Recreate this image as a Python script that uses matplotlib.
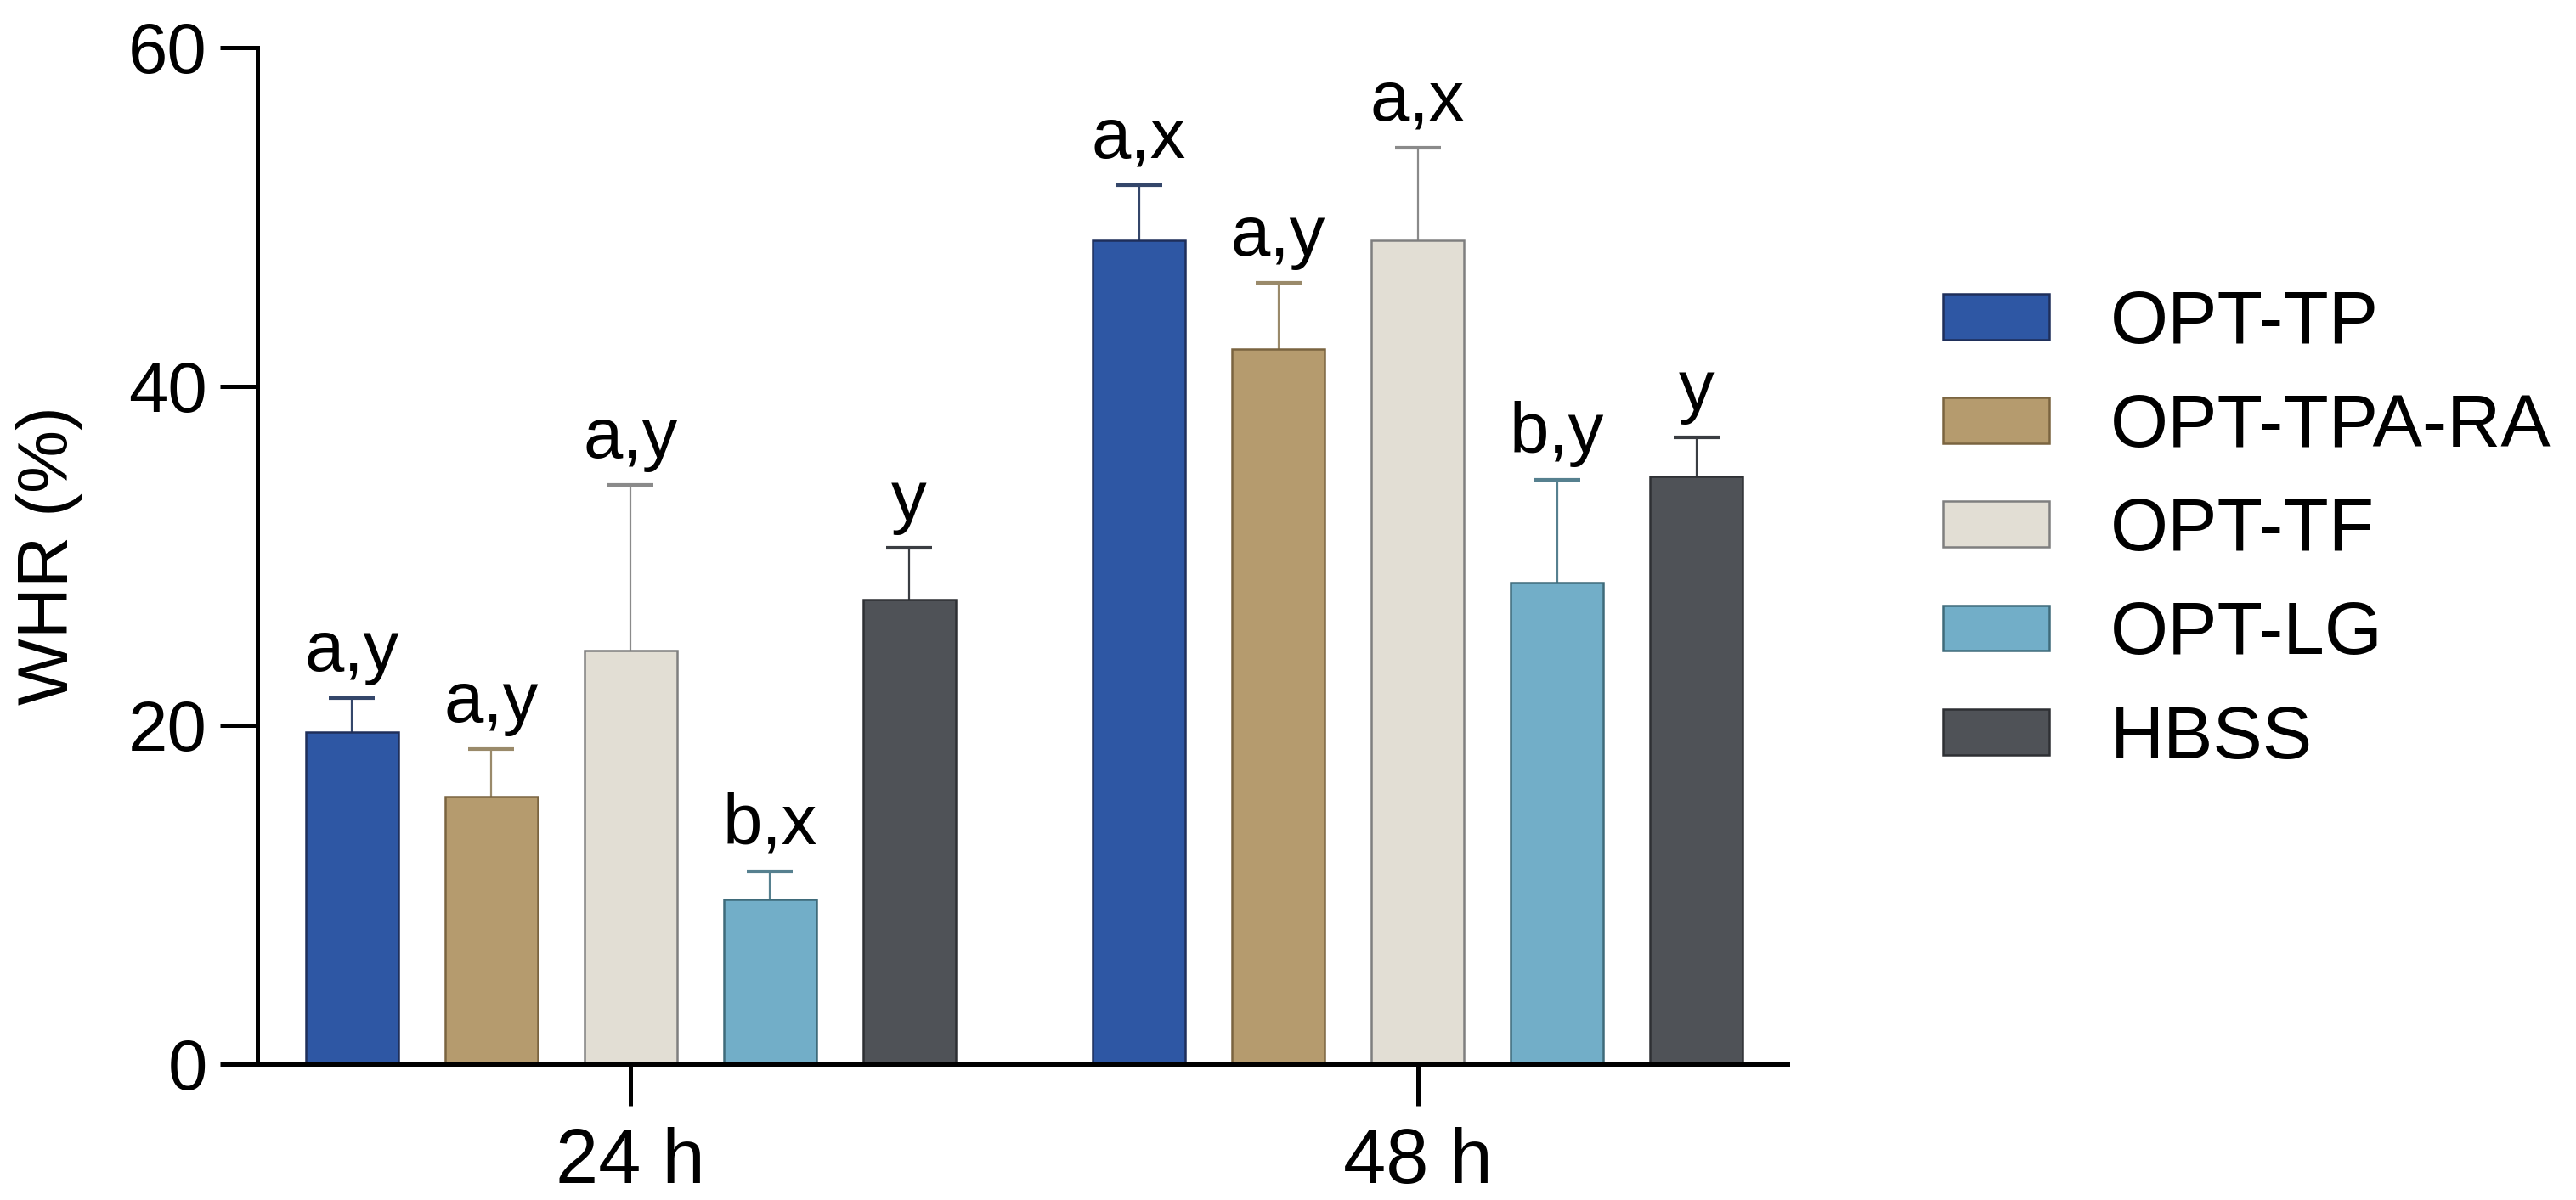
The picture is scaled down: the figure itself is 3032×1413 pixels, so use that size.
import matplotlib
matplotlib.use("Agg")
import matplotlib.pyplot as plt
import numpy as np

plt.rcParams['font.family'] = ['Liberation Sans', 'DejaVu Sans']

groups = ["24 h", "48 h"]
series = ["OPT-TP", "OPT-TPA-RA", "OPT-TF", "OPT-LG", "HBSS"]
means_24 = [19.6, 15.8, 24.4, 9.7, 27.4]
means_48 = [48.6, 42.2, 48.6, 28.4, 34.7]
err_24 = [2.0, 2.8, 9.8, 1.7, 3.1]
err_48 = [3.3, 3.9, 5.5, 6.1, 2.3]
labels_24 = ["a,y", "a,y", "a,y", "b,x", "y"]
labels_48 = ["a,x", "a,y", "a,x", "b,y", "y"]
yticks = [0, 20, 40, 60]

fills = ["#2E57A4", "#B59B6E", "#E2DED4", "#72AEC8", "#4F5257"]
edges = ["#1F2F5A", "#7A6440", "#7F7F7F", "#3F6B7A", "#2E3034"]
ecolors = ["#34466A", "#9A8A6A", "#8A8A8A", "#56808F", "#3A3D42"]
capcolors = ["#7F8CA6", "#A8987A", "#ABABAB", "#7FA0AE", "#606368"]

fig = plt.figure(figsize=(30.32, 14.13), dpi=100)
ax = fig.add_axes([303/3032, 1 - 1253/1413, (2104-303)/3032, (1253-56)/1413])

x = np.arange(len(groups))
step = 0.177
width = 0.1177
means = np.array([means_24, means_48])
errs = np.array([err_24, err_48])
labs = [labels_24, labels_48]

for i, name in enumerate(series):
    pos = x + (i - 2) * step
    ax.bar(pos, means[:, i], width, color=fills[i], edgecolor=edges[i],
           linewidth=1.8, label=name, zorder=2)
    eb = ax.errorbar(pos, means[:, i], yerr=[np.zeros(2), errs[:, i]], fmt='none',
                     ecolor=ecolors[i], elinewidth=1.6, capsize=19.4, capthick=3.0, zorder=1)
    caps = eb[1]
    if len(caps) == 2:
        caps[0].set_visible(False)
    for cap in caps:
        cap.set_color(capcolors[i])
    for g in range(len(groups)):
        ax.annotate(labs[g][i], (pos[g], means[g, i] + errs[g, i]),
                    xytext=(0, 23), textcoords='offset points',
                    ha='center', va='baseline', fontsize=60, annotation_clip=False)

ax.set_xlim(-0.474, 1.470)
ax.set_ylim(0, 60)
ax.set_yticks(yticks)
ax.set_xticks(x)
ax.set_xticklabels(groups)
ax.spines['top'].set_visible(False)
ax.spines['right'].set_visible(False)
for s in ['left', 'bottom']:
    ax.spines[s].set_linewidth(3.6)
ax.tick_params(axis='y', length=31.7, width=3.6, labelsize=60, pad=11)
ax.tick_params(axis='x', length=35, width=3.6, labelsize=65, pad=18)
ax.set_ylabel("WHR (%)", fontsize=60, labelpad=39)

fig.legend(loc='upper left', bbox_to_anchor=(2290/3032 - 0.001, 1 - 341/1413),
           frameon=False, fontsize=63, handlelength=1.43, handleheight=0.57,
           handletextpad=0.82, labelspacing=0.47, borderpad=0, borderaxespad=0)

fig.savefig("out.png", dpi=100)
